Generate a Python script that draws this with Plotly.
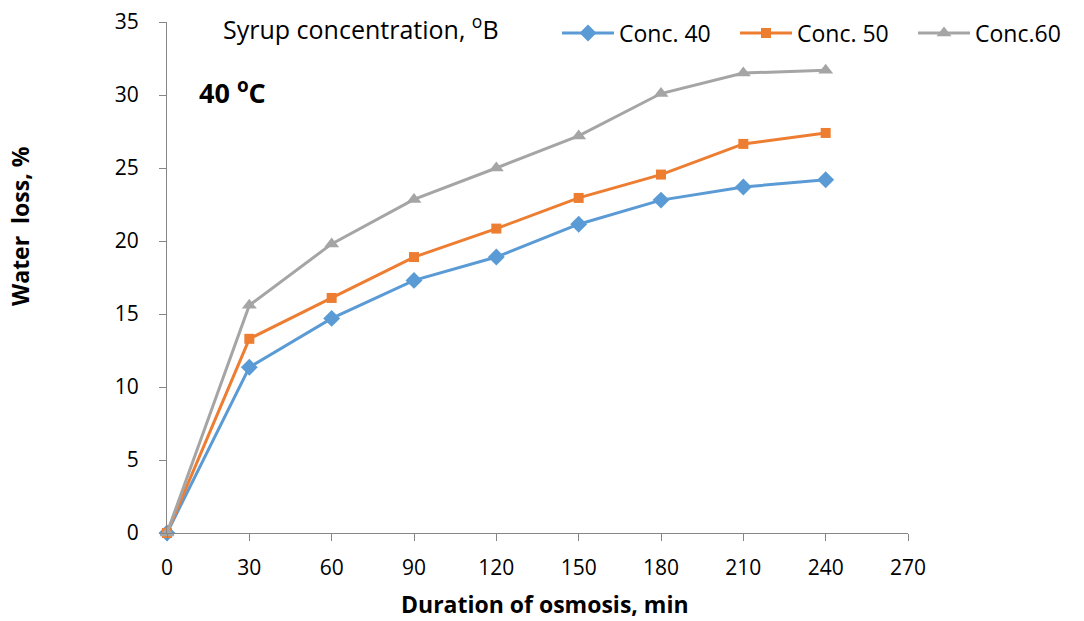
import plotly.graph_objects as go

time_min = [0, 30, 60, 90, 120, 150, 180, 210, 240]
conc40 = [0, 11.35, 14.7, 17.3, 18.9, 21.15, 22.8, 23.7, 24.2]
conc50 = [0, 13.3, 16.1, 18.9, 20.85, 22.95, 24.55, 26.65, 27.4]
conc60 = [0, 15.6, 19.8, 22.85, 25.0, 27.2, 30.1, 31.5, 31.7]
names = ["Conc. 40", "Conc. 50", "Conc.60"]
colors = ["#5B9BD5", "#ED7D31", "#A5A5A5"]
symbols = ["diamond", "square", "triangle-up"]
x_ticks = [0, 30, 60, 90, 120, 150, 180, 210, 240, 270]
y_ticks = [0, 5, 10, 15, 20, 25, 30, 35]

FONT = "Open Sans, Liberation Sans, sans-serif"

W, H = 1084, 621
PX0, PX1, PY0, PY1 = 167, 908, 22, 533
L, R, T, B = PX0, W - PX1, PY0, H - PY1


def px(xp):
    return (xp - PX0) / (PX1 - PX0)


def py(yp):
    return (PY1 - yp) / (PY1 - PY0)


sizes = {"diamond": 13, "square": 10, "triangle-up": 13}

fig = go.Figure()
for name, ys, c, s in zip(names, [conc40, conc50, conc60], colors, symbols):
    fig.add_trace(go.Scatter(
        x=time_min, y=ys, name=name, mode="lines+markers",
        line=dict(color=c, width=3),
        marker=dict(symbol=s, size=sizes[s], color=c),
        cliponaxis=False,
    ))

fig.update_layout(
    width=W, height=H,
    margin=dict(l=L, r=R, t=T, b=B, autoexpand=False),
    plot_bgcolor="white", paper_bgcolor="white",
    font=dict(family=FONT, size=21, color="#000"),
    showlegend=True,
    legend=dict(orientation="h", xref="container", yref="container",
                x=557 / W, y=1 - 33 / H, xanchor="left", yanchor="middle",
                font=dict(size=23), itemwidth=52, entrywidth=111, tracegroupgap=0,
                bgcolor="rgba(0,0,0,0)"),
    xaxis=dict(range=[0, 270], tickvals=x_ticks, showgrid=False, zeroline=False,
               showline=True, linecolor="#868686", linewidth=1,
               ticks="outside", ticklen=7, tickcolor="#868686",
               tickfont=dict(size=21), ticklabelstandoff=9),
    yaxis=dict(range=[0, 35], tickvals=y_ticks, showgrid=False, zeroline=False,
               showline=True, linecolor="#868686", linewidth=1,
               ticks="outside", ticklen=7, tickcolor="#868686",
               tickfont=dict(size=21), ticklabelstandoff=16),
    annotations=[
        dict(text="Syrup concentration, <sup>o</sup>B", xref="paper", yref="paper",
             x=px(221), y=py(27), xanchor="left", yanchor="middle",
             showarrow=False, font=dict(size=25)),
        dict(text="<b>40 <sup>o</sup>C</b>", xref="paper", yref="paper",
             x=px(197), y=py(91), xanchor="left", yanchor="middle",
             showarrow=False, font=dict(size=27)),
        dict(text="<b>Water  loss, %</b>", xref="paper", yref="paper",
             x=px(20), y=py(226), xanchor="center", yanchor="middle", textangle=-90,
             showarrow=False, font=dict(size=23)),
        dict(text="<b>Duration of osmosis, min</b>", xref="paper", yref="paper",
             x=px(545), y=py(604), xanchor="center", yanchor="middle",
             showarrow=False, font=dict(size=23)),
    ],
)

fig.write_html("out.html", config={"displayModeBar": False},
               post_script="document.body.style.margin='0';")
